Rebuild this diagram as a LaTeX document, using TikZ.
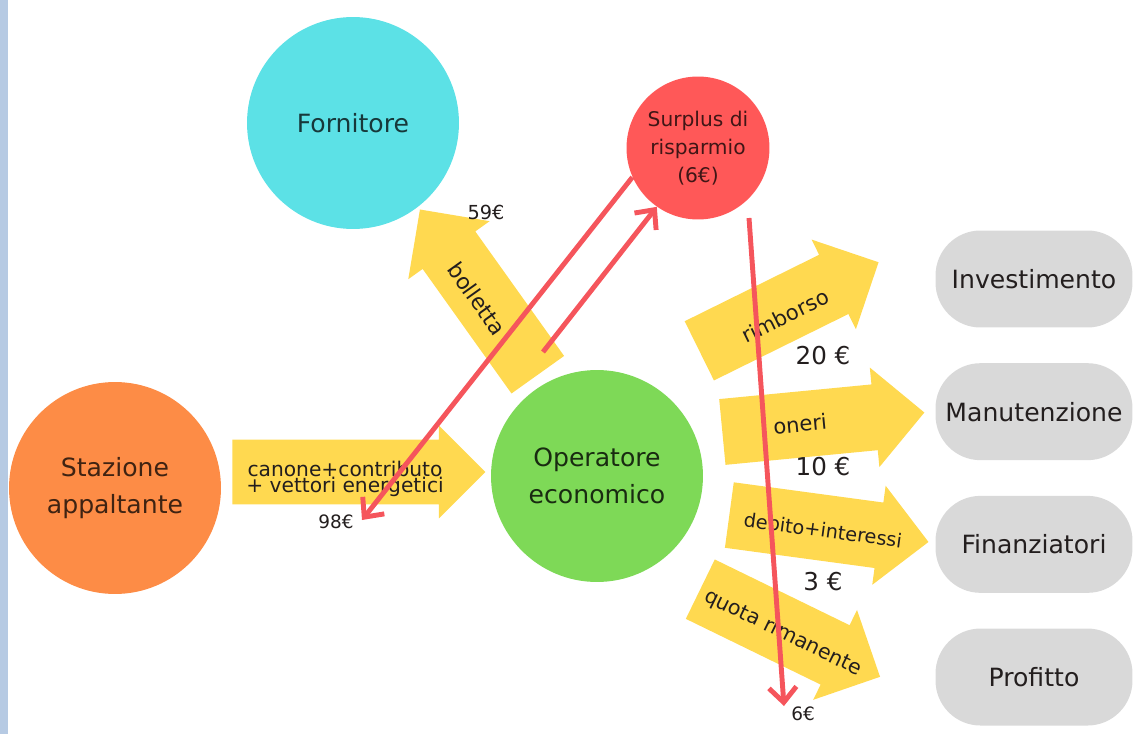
\documentclass[tikz,border=0pt]{standalone}
\usepackage{fontspec}
\setmainfont{DejaVu Sans}
\usetikzlibrary{positioning,shapes.arrows,arrows.meta}

\definecolor{barra}{RGB}{182,202,227}
\definecolor{arancio}{RGB}{253,140,70}
\definecolor{ciano}{RGB}{92,225,230}
\definecolor{rosso}{RGB}{255,88,88}
\definecolor{verde}{RGB}{126,217,87}
\definecolor{grigio}{RGB}{217,217,217}
\definecolor{giallo}{RGB}{255,217,80}
\definecolor{linea}{RGB}{245,85,92}
\definecolor{testo}{RGB}{35,30,30}

\begin{document}
\begin{tikzpicture}[%
    x=0.02cm,
    y=-0.02cm,
    >={Straight Barb[length=3mm,width=5.5mm]},
    node distance=0.7cm,
    ente/.style={%
      circle,
      minimum size=4.24cm,
      inner sep=0pt,
      align=center,
      font=\fontsize{14.3}{21}\selectfont
    },
    voce/.style={%
      rectangle,
      rounded corners=0.9cm,
      fill=grigio,
      minimum width=3.94cm,
      minimum height=1.94cm,
      text=testo,
      font=\fontsize{14.3}{17}\selectfont
    },
    freccia/.style={%
      single arrow,
      fill=giallo,
      inner sep=0pt,
      inner ysep=0.48cm,
      minimum width=2cm,
      anchor=tail
    },
    etichetta/.style={%
      text=testo,
      inner sep=0pt,
      font=\fontsize{12}{14}\selectfont
    },
    importo/.style={%
      text=testo,
      inner sep=0pt,
      font=\fontsize{14}{16}\selectfont
    },
    valore/.style={%
      text=testo,
      inner sep=0pt,
      font=\fontsize{10.5}{12}\selectfont
    },
    flusso/.style={%
      draw=linea,
      line width=2.8pt
    }
  ]
    \useasboundingbox (0,0) rectangle (1134,734);

    % soggetti
    \node[ente,fill=arancio,text=arancio!25!black] (stazione)  at (115,488) {Stazione\\appaltante};
    \node[ente,fill=ciano,text=ciano!25!black]     (fornitore) at (353,123) {Fornitore};
    \node[ente,fill=verde,text=verde!20!black]     (operatore) at (597,476) {Operatore\\economico};
    \node[ente,fill=rosso,text=rosso!25!black,minimum size=2.86cm,
          font=\fontsize{11.5}{16}\selectfont] (surplus) at (698,148) {Surplus di\\risparmio\\(6€)};

    \fill[barra] (0,0) rectangle (8,734);

    % destinazioni
    \node[voce] (investimento)                        at (1034,279) {Investimento};
    \node[voce] (manutenzione) [below=of investimento] {Manutenzione};
    \node[voce] (finanziatori) [below=of manutenzione] {Finanziatori};
    \node[voce] (profitto)     [below=of finanziatori] {Profitto};

    % frecce gialle
    \node[freccia,minimum height=5.06cm,inner ysep=0.56cm,minimum width=1.86cm] (canone) at (232,472) {};
    \node[freccia,rotate=125.5,minimum height=4.06cm,inner ysep=0.45cm] (bolletta) at (538,375) {};
    \node[freccia,rotate=26.3,minimum height=4cm]  (rimborso) at (699,351) {};
    \node[freccia,rotate=5.5,minimum height=4.06cm] (oneri)    at (722,432) {};
    \node[freccia,rotate=-7.7,minimum height=4.02cm] (debito)  at (729,515) {};
    \node[freccia,rotate=-26,minimum height=4cm]   (quota)    at (700,589) {};

    % testi sulle frecce
    \node[etichetta,align=center,font=\fontsize{11.5}{9}\selectfont] (lcanone) at (345,479) {canone+contributo\\+ vettori energetici};
    \node[etichetta,rotate=-54.5,font=\fontsize{12.5}{14}\selectfont] (lbolletta) at (477,299) {bolletta};
    \node[etichetta,rotate=26.3]  (lrimborso) at (785,316) {rimborso};
    \node[etichetta,rotate=5.5]   (loneri)    at (800,424) {oneri};
    \node[etichetta,rotate=-7.7,font=\fontsize{11}{13}\selectfont] (ldebito) at (823,530) {debito+interessi};
    \node[etichetta,rotate=-26,font=\fontsize{11.7}{13}\selectfont]  (lquota)  at (783,633) {quota rimanente};

    \node[importo] (i20) at (823,356) {20 €};
    \node[importo] (i10) at (823,467) {10 €};
    \node[importo] (i3)  at (823,582) {3 €};

    \node[valore,font=\fontsize{11}{13}\selectfont] (v59) at (486,212) {59€};
    \node[valore] (v98) at (336,522) {98€};
    \node[valore] (v6)  at (803,714) {6€};

    % frecce rosse
    \coordinate (fine98)   at (362,520);
    \coordinate (inizio)   at (543,352);
    \coordinate (partenza) at (749,218);
    \coordinate (fine6)    at (784,706);

    \draw[flusso,->] (surplus.204) -- (fine98);
    \draw[flusso,->] (inizio) -- (surplus.235);
    \draw[flusso,->] (partenza) -- (fine6);
  \end{tikzpicture}
\end{document}
